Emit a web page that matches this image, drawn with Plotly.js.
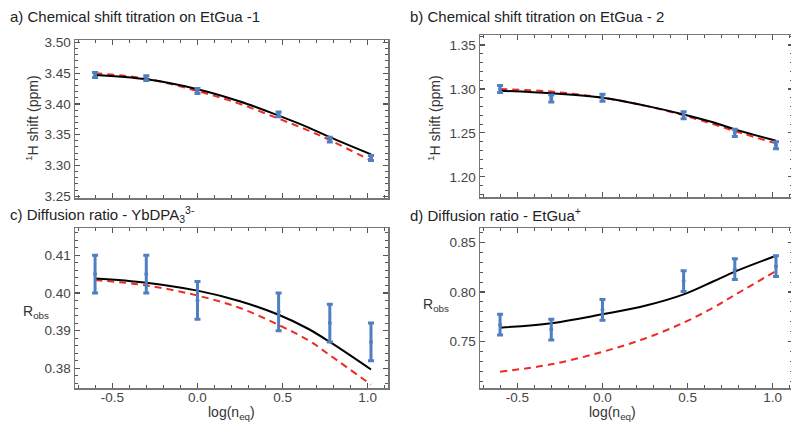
<!DOCTYPE html>
<html>
<head>
<meta charset="utf-8">
<script src="https://cdn.plot.ly/plotly-3.0.1.min.js"></script>
<style>
html,body{margin:0;padding:0;overflow:hidden;background:#fff;}
#chart{width:800px;height:423px;}
</style>
</head>
<body>
<div id="chart"></div>
<script>
// ---- data ----
const xData = [-0.602, -0.301, 0.0, 0.477, 0.778, 1.02];
const xFit  = [-0.602, -0.301, 0.0, 0.25, 0.477, 0.65, 0.778, 1.02];

// a) Chemical shift EtGua-1
const aVals = [3.447, 3.442, 3.421, 3.383, 3.342, 3.312];
const aErr  = [0.004, 0.004, 0.004, 0.004, 0.004, 0.004];
const aFitBlack = [3.447, 3.440, 3.424, 3.404, 3.381, 3.362, 3.346, 3.318];
const aFitRed   = [3.450, 3.441, 3.421, 3.400, 3.376, 3.357, 3.341, 3.308];

// b) Chemical shift EtGua-2
const bVals = [1.300, 1.289, 1.290, 1.270, 1.250, 1.236];
const bErr  = [0.004, 0.004, 0.004, 0.004, 0.004, 0.004];
const bFitBlack = [1.298, 1.295, 1.290, 1.281, 1.271, 1.262, 1.254, 1.241];
const bFitRed   = [1.300, 1.297, 1.290, 1.281, 1.270, 1.260, 1.252, 1.238];

// c) Diffusion ratio YbDPA3 3-
const cVals = [0.405, 0.405, 0.398, 0.395, 0.392, 0.387];
const cErr  = [0.005, 0.005, 0.005, 0.005, 0.005, 0.005];
const cFitBlack = [0.4038, 0.4027, 0.4006, 0.3978, 0.3942, 0.3905, 0.3870, 0.3797];
const cFitRed   = [0.4034, 0.4020, 0.3993, 0.3960, 0.3915, 0.3875, 0.3835, 0.3757];

// d) Diffusion ratio EtGua+
const dVals = [0.767, 0.762, 0.782, 0.811, 0.823, 0.826];
const dErr  = [0.0105, 0.0105, 0.0105, 0.0105, 0.0105, 0.0105];
const dFitBlack = [0.764, 0.7685, 0.7775, 0.7860, 0.7975, 0.8105, 0.8205, 0.8365];
const dFitRed   = [0.7195, 0.7270, 0.7396, 0.753, 0.769, 0.784, 0.797, 0.821];

const panelTitles = [
  'a) Chemical shift titration on EtGua -1',
  'b) Chemical shift titration on EtGua - 2',
  'c) Diffusion ratio - YbDPA<sub>3</sub><sup>3-</sup>',
  'd) Diffusion ratio - EtGua<sup>+</sup>'
];
const yTitleShift = '<sup>1</sup>H shift (ppm)';
const yTitleR = 'R<sub>obs</sub>';
const xTitle = 'log(n<sub>eq</sub>)';

// ---- drawing ----
const W = 800, H = 423;
const BLUE = '#4f7fc0';
const RED = '#ee2b24';
const FONT = 'Liberation Sans, Arial, sans-serif';

const panels = [
  {vals:aVals, err:aErr, black:aFitBlack, red:aFitRed, xa:'x',  ya:'y'},
  {vals:bVals, err:bErr, black:bFitBlack, red:bFitRed, xa:'x2', ya:'y2'},
  {vals:cVals, err:cErr, black:cFitBlack, red:cFitRed, xa:'x3', ya:'y3'},
  {vals:dVals, err:dErr, black:dFitBlack, red:dFitRed, xa:'x4', ya:'y4'}
];

const traces = [];
panels.forEach(p => {
  traces.push({
    x: xFit, y: p.red, xaxis: p.xa, yaxis: p.ya, mode: 'lines',
    line: {color: RED, width: 2, dash: '7px,5px', shape: 'spline', smoothing: 1},
    showlegend: false
  });
  traces.push({
    x: xFit, y: p.black, xaxis: p.xa, yaxis: p.ya, mode: 'lines',
    line: {color: '#000', width: 2, shape: 'spline', smoothing: 1},
    showlegend: false
  });
  traces.push({
    x: xData, y: p.vals, xaxis: p.xa, yaxis: p.ya, mode: 'markers',
    marker: {color: BLUE, size: 4},
    error_y: {type: 'data', array: p.err, visible: true, color: BLUE, thickness: 3, width: 3},
    showlegend: false
  });
});

function px(x){ return x / W; }
function py(y){ return 1 - y / H; }

const xRange = [-0.72, 1.12];
function xaxis(dom, anchor, showLabels){
  return {
    domain: dom, anchor: anchor, range: xRange,
    tickvals: [-0.5, 0, 0.5, 1.0], ticktext: ['-0.5', '0.0', '0.5', '1.0'],
    showticklabels: showLabels, ticklabelstandoff: -4,
    ticks: 'inside', ticklen: 5, tickwidth: 1.2, tickcolor: '#555',
    minor: {dtick: 0.1, tick0: 0, ticks: 'inside', ticklen: 3, tickcolor: '#555', tickwidth: 1, showgrid: false},
    showline: true, linecolor: '#777', linewidth: 1.5, mirror: 'allticks',
    showgrid: false, zeroline: false,
    tickfont: {family: FONT, size: 13.5, color: '#444'}
  };
}
function yaxis(dom, anchor, range, tv, tt, minorDt){
  return {
    domain: dom, anchor: anchor, range: range,
    tickvals: tv, ticktext: tt,
    ticks: 'inside', ticklen: 5, tickwidth: 1.2, tickcolor: '#555',
    minor: {dtick: minorDt, tick0: 0, ticks: 'inside', ticklen: 3, tickcolor: '#555', tickwidth: 1, showgrid: false},
    showline: true, linecolor: '#777', linewidth: 1.5, mirror: 'allticks',
    showgrid: false, zeroline: false,
    tickfont: {family: FONT, size: 13.5, color: '#444'}
  };
}

const dxL = [px(75), px(388)];
const dxR = [px(480), px(793)];
const dyTopA = [py(198), py(40)];
const dyTopB = [py(197), py(35)];
const dyBot = [py(388), py(228)];

const layout = {
  width: W, height: H,
  margin: {l: 0, r: 0, t: 0, b: 0},
  paper_bgcolor: '#fff', plot_bgcolor: '#fff',
  font: {family: FONT, color: '#333'},
  xaxis:  xaxis(dxL, 'y', false),
  xaxis2: xaxis(dxR, 'y2', false),
  xaxis3: xaxis(dxL, 'y3', true),
  xaxis4: xaxis(dxR, 'y4', true),
  yaxis:  yaxis(dyTopA, 'x', [3.247, 3.504], [3.25,3.30,3.35,3.40,3.45,3.50], ['3.25','3.30','3.35','3.40','3.45','3.50'], 0.01),
  yaxis2: yaxis(dyTopB, 'x2', [1.177, 1.3614], [1.20,1.25,1.30,1.35], ['1.20','1.25','1.30','1.35'], 0.01),
  yaxis3: yaxis(dyBot, 'x3', [0.3748, 0.4172], [0.38,0.39,0.40,0.41], ['0.38','0.39','0.40','0.41'], 0.002),
  yaxis4: yaxis(dyBot, 'x4', [0.7031, 0.8645], [0.75,0.80,0.85], ['0.75','0.80','0.85'], 0.01),
  annotations: [
    {text: panelTitles[0], x: px(8),   y: py(17),  xref:'paper', yref:'paper', xanchor:'left', yanchor:'middle', showarrow:false, font:{size:15, color:'#222'}},
    {text: panelTitles[1], x: px(408), y: py(17),  xref:'paper', yref:'paper', xanchor:'left', yanchor:'middle', showarrow:false, font:{size:15, color:'#222'}},
    {text: panelTitles[2], x: px(8),   y: py(215), xref:'paper', yref:'paper', xanchor:'left', yanchor:'middle', showarrow:false, font:{size:15, color:'#222'}},
    {text: panelTitles[3], x: px(408), y: py(215), xref:'paper', yref:'paper', xanchor:'left', yanchor:'middle', showarrow:false, font:{size:15, color:'#222'}},
    {text: yTitleShift, x: px(32),  y: py(118), xref:'paper', yref:'paper', xanchor:'center', yanchor:'middle', textangle:-90, showarrow:false, font:{size:14, color:'#333'}},
    {text: yTitleShift, x: px(434), y: py(118), xref:'paper', yref:'paper', xanchor:'center', yanchor:'middle', textangle:-90, showarrow:false, font:{size:14, color:'#333'}},
    {text: yTitleR, x: px(36),  y: py(312), xref:'paper', yref:'paper', xanchor:'center', yanchor:'middle', showarrow:false, font:{size:14, color:'#333'}},
    {text: yTitleR, x: px(436), y: py(305), xref:'paper', yref:'paper', xanchor:'center', yanchor:'middle', showarrow:false, font:{size:14, color:'#333'}},
    {text: xTitle, x: px(231), y: py(413), xref:'paper', yref:'paper', xanchor:'center', yanchor:'middle', showarrow:false, font:{size:14, color:'#333'}},
    {text: xTitle, x: px(612), y: py(413), xref:'paper', yref:'paper', xanchor:'center', yanchor:'middle', showarrow:false, font:{size:14, color:'#333'}}
  ]
};

Plotly.newPlot('chart', traces, layout, {displayModeBar: false, staticPlot: true});
</script>
</body>
</html>
